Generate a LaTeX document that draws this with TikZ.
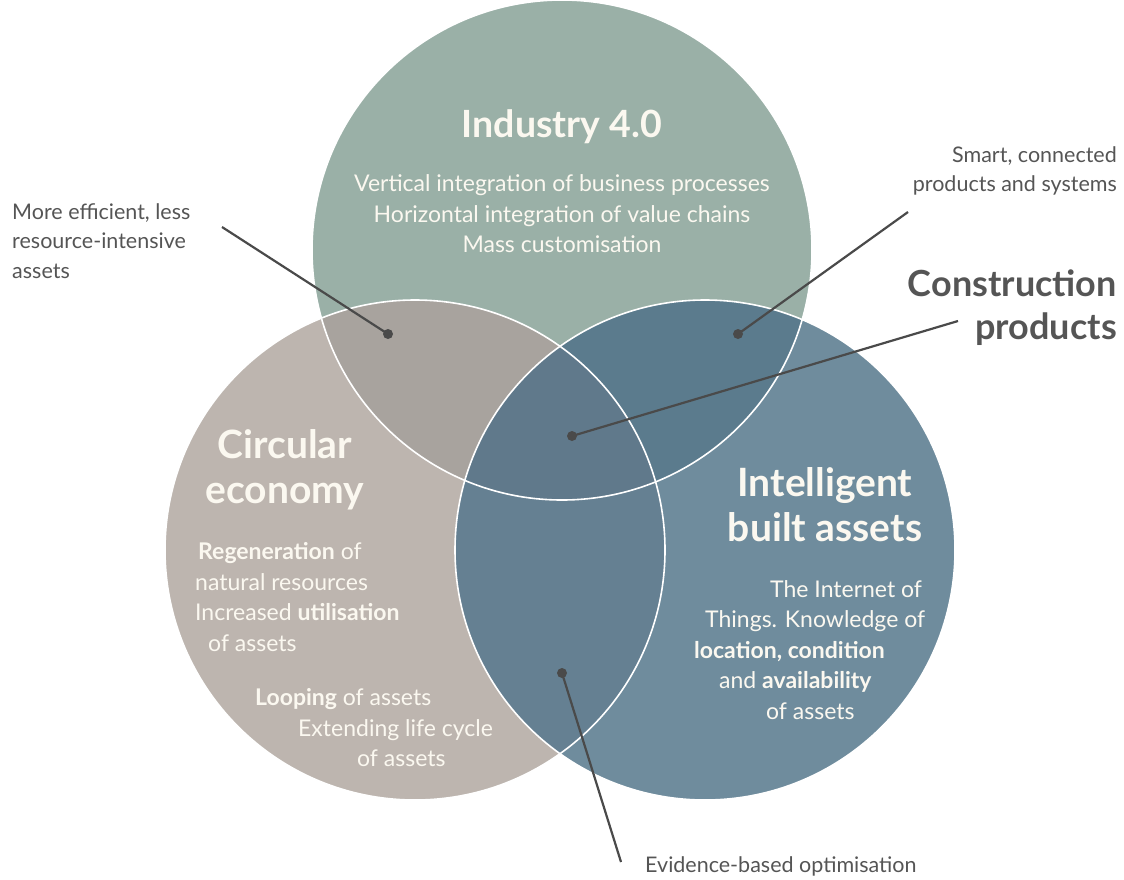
\documentclass[tikz,border=0pt]{standalone}
\usepackage{fontspec}
\setmainfont{Lato}

% region colours
\definecolor{indcol}{HTML}{9AB0A7}
\definecolor{circcol}{HTML}{BDB5AF}
\definecolor{smartcol}{HTML}{6F8C9D}
\definecolor{iccol}{HTML}{A8A39E}
\definecolor{iscol}{HTML}{5B7B8D}
\definecolor{cscol}{HTML}{658092}
\definecolor{allcol}{HTML}{60798B}
\definecolor{leadcol}{HTML}{4A4A4A}
\definecolor{txtcol}{HTML}{FBF8F0}
\definecolor{notecol}{HTML}{555555}

\def\indcircle{(562,250) circle (250pt)}
\def\circcircle{(415,550) circle (250pt)}
\def\smartcircle{(705,550) circle (250pt)}

\begin{document}
\begin{tikzpicture}[x=1pt,y=-1pt,
  ring/.style={draw=white,line width=1.6pt},
  lead/.style={draw=leadcol,line width=2.2pt},
  dot/.style={circle,fill=leadcol,inner sep=0pt,minimum size=10pt},
  title/.style={inner sep=0pt,text=txtcol,font=\bfseries\fontsize{39}{45}\selectfont,align=center},
  body/.style={inner sep=0pt,text=txtcol,font=\fontsize{23}{30.5}\selectfont},
  note/.style={inner sep=0pt,text=notecol,font=\fontsize{21.5}{29.5}\selectfont}]
\useasboundingbox (0,0) rectangle (1124,879);

% the three sets
\fill[indcol] \indcircle;
\fill[circcol] \circcircle;
\fill[smartcol] \smartcircle;

% overlaps
\begin{scope}
  \clip \indcircle;
  \fill[iccol] \circcircle;
  \fill[iscol] \smartcircle;
\end{scope}
\begin{scope}
  \clip \circcircle;
  \fill[cscol] \smartcircle;
\end{scope}
\begin{scope}
  \clip \indcircle;
  \clip \circcircle;
  \fill[allcol] \smartcircle;
\end{scope}

\draw[ring] \indcircle;
\draw[ring] \circcircle;
\draw[ring] \smartcircle;

% leader lines
\node[dot] (ptic) at (388,334) {};
\node[dot] (ptis) at (738,334) {};
\node[dot] (ptall) at (572,436) {};
\node[dot] (ptcs) at (562,673) {};
\coordinate (endic) at (222,227);
\coordinate (endis) at (908,212);
\coordinate (endall) at (958,321);
\coordinate (endcs) at (621,862);
\draw[lead] (ptic.center) -- (endic);
\draw[lead] (ptis.center) -- (endis);
\draw[lead] (ptall.center) -- (endall);
\draw[lead] (ptcs.center) -- (endcs);

% Industry 4.0
\node[title,font=\bfseries\fontsize{37.5}{45}\selectfont] (indtitle) at (562,127) {Industry 4.0};
\node[body,align=center] (indbody) at (562,214) {Vertical integration of business processes\\Horizontal integration of value chains\\Mass customisation};

% Circular economy
\node[title] (circtitle) at (285,470) {Circular\\economy};
\node[body,align=left,anchor=west] (circbodyA) at (195,597) {\hspace*{3pt}\textbf{Regeneration} of\\natural resources\\Increased \textbf{utilisation}\\\hspace*{13pt}of assets};
\node[body,align=left,anchor=west] (circbodyB) at (255,728) {\textbf{Looping} of assets\\\hspace*{43pt}Extending life cycle\\\hspace*{102pt}of assets};

% Intelligent built assets
\node[title] (smarttitle) at (825,505) {Intelligent\\built assets};
\node[body,align=left,anchor=west] (smartbody) at (694,650) {\hspace*{76pt}The Internet of\\\hspace*{11pt}Things. Knowledge of\\\textbf{location, condition}\\\hspace*{25pt}and \textbf{availability}\\\hspace*{72pt}of assets};

% outside labels
\node[note,align=left,anchor=west] (lblic) at (12,241) {More efficient, less\\resource-intensive\\assets};
\node[note,align=right,anchor=east] (lblis) at (1117,171) {Smart, connected\\products and systems};
\node[note,font=\bfseries\fontsize{36}{43}\selectfont,align=right,anchor=east] (lblall) at (1117,308) {Construction\\products};
\node[note,anchor=west] (lblcs) at (645,866) {Evidence-based optimisation};
\end{tikzpicture}
\end{document}
